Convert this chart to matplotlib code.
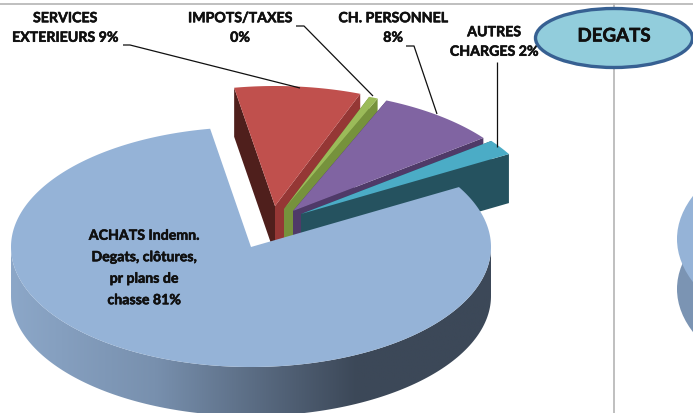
import numpy as np
import matplotlib
matplotlib.use("Agg")
import matplotlib.pyplot as plt
import matplotlib.patheffects as pe
from matplotlib.colors import LinearSegmentedColormap
from matplotlib.patches import Ellipse, Polygon

# slices in clockwise order, starting from the top left of the gap
categories = ["SERVICES\nEXTERIEURS 9%", "IMPOTS/TAXES\n0%", "CH. PERSONNEL\n8%",
              "AUTRES\nCHARGES 2%", "ACHATS Indemn.\nDegats, clôtures,\npr plans de\nchasse 81%"]
values = [8.5, 0.6, 8.2, 2.1, 80.6]
badge_text = "DEGATS"

top_colors = ["#c0504d", "#9bbb59", "#8064a2", "#4bacc6", "#95b3d7"]
cw_wall_colors = ["#953735", "#76923c", "#4f3a68", "#25525f", "#3c4858"]
ccw_wall_colors = ["#4f1f1c", "#5f7530", "#3f2f55", "#25525f", "#3c4858"]

# layout, in pixels
W, H = 693, 414
CX, CY = 251, 248
RX, RY = 240, 120
DEPTH = 49
START = 99.8
offsets = [(24, -41), (33, -38), (42, -36), (50, -33), (0, 0)]


def ellipse_pts(cx, cy, a0, a1, n=200):
    t = np.radians(np.linspace(a0, a1, n))
    return np.column_stack([cx + RX * np.cos(t), cy - RY * np.sin(t)])


def wall(p, q):
    return [p, q, (q[0], q[1] + DEPTH), (p[0], p[1] + DEPTH)]


fig = plt.figure(figsize=(W / 100, H / 100), dpi=100)
ax = fig.add_axes([0, 0, 1, 1])
ax.set_xlim(0, W)
ax.set_ylim(H, 0)
ax.axis("off")

# panel borders
ax.plot([0, W], [5, 5], color="#b4b4b4", lw=1.2, zorder=1)
ax.plot([614, 614], [5, H], color="#b4b4b4", lw=1.2, zorder=1)

angles = START - np.cumsum([0] + values) * 360 / sum(values)

# exploded small slices, back to front
for i in range(4):
    cx, cy = CX + offsets[i][0], CY + offsets[i][1]
    arc = ellipse_pts(cx, cy, angles[i], angles[i + 1], 60)
    z = 2 + i
    ax.add_patch(Polygon(wall((cx, cy), arc[0]), fc=ccw_wall_colors[i], ec="none", zorder=z))
    ax.add_patch(Polygon(wall((cx, cy), arc[-1]), fc=cw_wall_colors[i], ec="none", zorder=z))
    ax.add_patch(Polygon(np.vstack([[cx, cy], arc]), fc=top_colors[i], ec="none", zorder=z + 0.5))

# big slice: shaded side, then top
side_cmap = LinearSegmentedColormap.from_list(
    "side", [(0, "#8ca7c8"), (0.3, "#7890ae"), (0.6, "#4d5c70"), (0.72, "#3c4858"), (1, "#3c4858")])
low = ellipse_pts(CX, CY, 180, 360)
band = np.vstack([low, (low + [0, DEPTH])[::-1]])
side = Polygon(band, fc="none", ec="none", zorder=7)
ax.add_patch(side)
grad = np.linspace(0, 1, 256).reshape(1, -1)
im = ax.imshow(grad, cmap=side_cmap, extent=[CX - RX, CX + RX, H, 200], aspect="auto", zorder=7)
im.set_clip_path(side)
ax.set_xlim(0, W)
ax.set_ylim(H, 0)

arc = ellipse_pts(CX, CY, angles[4], angles[5], 400)
ax.add_patch(Polygon(np.vstack([[CX, CY], arc]), fc=top_colors[4], ec="none", zorder=8))

# next chart's pie, cut by the picture edge
ax.add_patch(Ellipse((917, 290), 480, 240, fc="#7b94b3", ec="none", zorder=2))
ax.add_patch(Ellipse((917, 240), 480, 240, fc=top_colors[4], ec="none", zorder=3))

# leader lines
leaders = [([123, 130, 300], [46, 46, 89]),
           ([296, 304, 373], [27, 27, 97]),
           ([406, 414, 437], [47, 47, 115]),
           ([497, 497], [63, 148])]
for xs, ys in leaders:
    ax.plot(xs, ys, color="#101010", lw=0.9, zorder=9, solid_capstyle="butt")

# labels
heavy = [pe.withStroke(linewidth=0.4, foreground="#101010")]
font = dict(family="Lato", weight="bold", color="#101010", ha="center", va="center",
            fontsize=10.2, linespacing=1.75, zorder=10, path_effects=heavy)
ax.text(65, 29, categories[0], **font)
ax.text(240, 29, categories[1], **font)
ax.text(393, 29, categories[2], **font)
ax.text(494, 43, categories[3], **font)
ax.text(144, 269, categories[4], **{**font, "linespacing": 1.95})

# badge
ax.add_patch(Ellipse((614, 39), 157, 59, fc="#92cddc", ec="#376092", lw=2.4, zorder=11))
ax.text(614, 37, badge_text, family="Lato", weight="bold", color="#101010", ha="center",
        va="center", fontsize=13.5, zorder=12, path_effects=heavy)

fig.savefig("out.png", dpi=100)
